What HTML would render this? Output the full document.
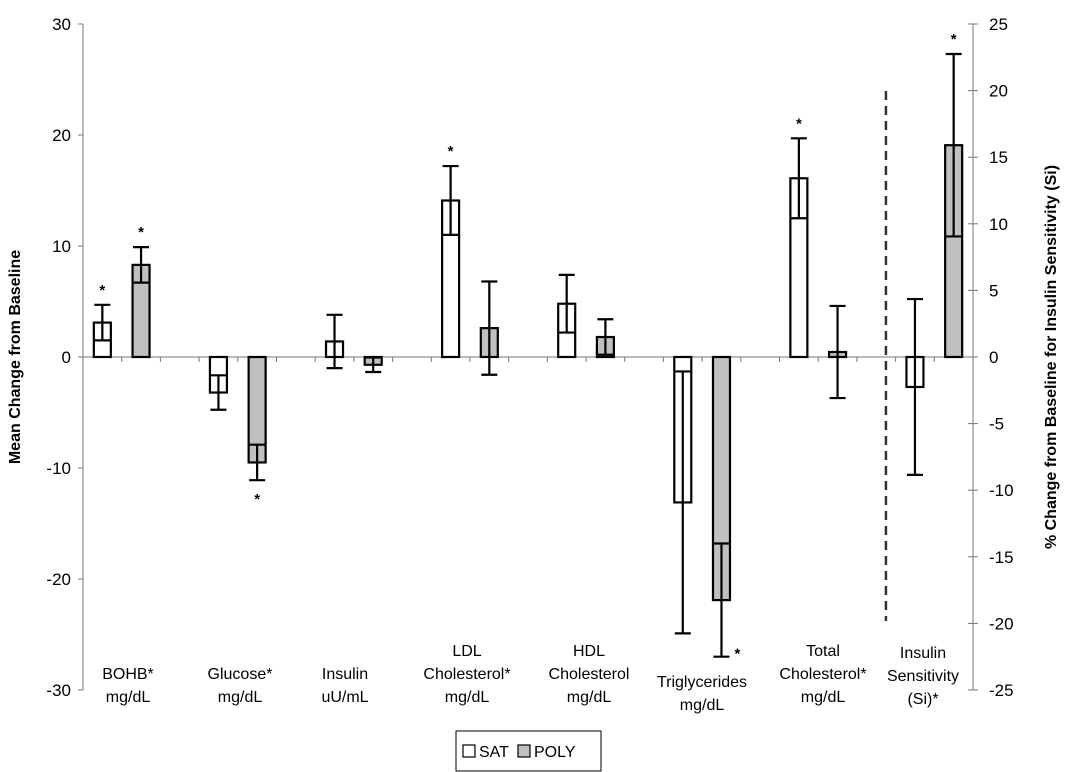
<!DOCTYPE html>
<html><head><meta charset="utf-8">
<style>
html,body{margin:0;padding:0;background:#fff;}
svg{display:block;font-family:"Liberation Sans",Arial,sans-serif;}
</style></head>
<body>
<svg id="chart" width="1072" height="772" viewBox="0 0 1072 772">
  <text x="20" y="357" transform="rotate(-90 20 357)" text-anchor="middle" font-size="16" font-weight="bold">Mean Change from Baseline</text>
  <text x="1056" y="357" transform="rotate(-90 1056 357)" text-anchor="middle" font-size="16" font-weight="bold">% Change from Baseline for Insulin Sensitivity (Si)</text>
  <g>
    <rect x="456" y="731" width="145" height="40" fill="#fff" stroke="#000" stroke-width="1"></rect>
    <rect x="463" y="745" width="12" height="12" fill="#fff" stroke="#000" stroke-width="1.2"></rect>
    <text x="479" y="757" font-size="16">SAT</text>
    <rect x="518" y="745" width="12" height="12" fill="#c0c0c0" stroke="#000" stroke-width="1.2"></rect>
    <text x="534" y="757" font-size="16">POLY</text>
  </g>
</svg>
<script>
const categories = ["BOHB","Glucose","Insulin","LDL Cholesterol","HDL Cholesterol","Triglycerides","Total Cholesterol","Insulin Sensitivity"];
const satValues = [3.1, -3.2, 1.4, 14.1, 4.8, -13.1, 16.1, -2.25];
const satErrors = [1.6, 1.55, 2.4, 3.1, 2.6, 11.8, 3.6, 6.6];
const polyValues = [8.3, -9.5, -0.7, 2.6, 1.8, -21.9, 0.45, 15.9];
const polyErrors = [1.6, 1.6, 0.65, 4.2, 1.6, 5.1, 4.15, 6.85];
const leftTicks = [30, 20, 10, 0, -10, -20, -30];
const rightTicks = [25, 20, 15, 10, 5, 0, -5, -10, -15, -20, -25];
const satStars = [true, false, false, true, false, false, true, false];
const polyStars = [true, true, false, false, false, true, false, true];
const labelLines = [["BOHB*","mg/dL"],["Glucose*","mg/dL"],["Insulin","uU/mL"],["LDL","Cholesterol*","mg/dL"],["HDL","Cholesterol","mg/dL"],["Triglycerides","mg/dL"],["Total","Cholesterol*","mg/dL"],["Insulin","Sensitivity","(Si)*"]];

const svg = document.getElementById('chart');
const NS = 'http://www.w3.org/2000/svg';
const X0 = 83, X1 = 973, Y0 = 357;
const slotW = (X1 - X0) / 23;
function yL(v){ return Y0 - v * 11.1; }
function yR(v){ return Y0 - v * 13.32; }
function slotCenter(s){ return X0 + slotW * (s + 0.5); }
function mk(tag, attrs){ const e = document.createElementNS(NS, tag); for (const k in attrs) e.setAttribute(k, attrs[k]); svg.appendChild(e); return e; }

// axes
let a = mk('line',{x1:X0,y1:yL(30),x2:X0,y2:yL(-30),stroke:'#777','stroke-width':1});


a = mk('line',{x1:X1,y1:yR(25),x2:X1,y2:yR(-25),stroke:'#777','stroke-width':1});


a = mk('line',{x1:X0,y1:Y0,x2:X1,y2:Y0,stroke:'#777','stroke-width':1});


for (let i = 1; i < 23; i++) {
  const t = mk('line',{x1:X0+slotW*i,y1:Y0,x2:X0+slotW*i,y2:Y0+5,stroke:'#777','stroke-width':1});
  
  
}
leftTicks.forEach(v => {
  const t = mk('line',{x1:X0-5,y1:yL(v),x2:X0,y2:yL(v),stroke:'#777','stroke-width':1});
  
  
  const l = mk('text',{x:X0-12,y:yL(v)+6,'text-anchor':'end','font-size':17});
  l.textContent = v;
  
  
});
rightTicks.forEach(v => {
  const t = mk('line',{x1:X1-5,y1:yR(v),x2:X1+5,y2:yR(v),stroke:'#777','stroke-width':1});
  
  
  const l = mk('text',{x:X1+16,y:yR(v)+6,'text-anchor':'start','font-size':17});
  l.textContent = v;
  
  
});
// dashed separator
const dsh = mk('line',{x1:X0+slotW*20.75,y1:91,x2:X0+slotW*20.75,y2:621,stroke:'#333','stroke-width':2.5,'stroke-dasharray':'9,6'});



const bw = 17, cap = 8;
function drawBar(val, err, slot, fill, name, star, scale){
  const cx = slotCenter(slot);
  const yv = scale(val), y0 = scale(0);
  const r = mk('rect',{x:cx-bw/2,y:Math.min(yv,y0),width:bw,height:Math.max(1,Math.abs(yv-y0)),fill:fill,stroke:'#000','stroke-width':2.2});
  
  
  const yt = scale(val+err), yb = scale(val-err);
  const e = mk('path',{d:`M${cx},${yt}V${yb}M${cx-cap},${yt}H${cx+cap}M${cx-cap},${yb}H${cx+cap}`,stroke:'#000','stroke-width':2.2,fill:'none'});
  
  
  if (star) {
    let sx = cx, sy;
    if (val >= 0) sy = yt - 10;
    else if (name.indexOf('triglycerides') >= 0) { sx = cx + 16; sy = yb + 2; }
    else sy = yb + 24;
    const s = mk('text',{x:sx,y:sy,'text-anchor':'middle','font-size':15,'font-weight':'bold'});
    s.textContent = '*';
    
    
  }
}
categories.forEach((c, g) => {
  const slug = c.toLowerCase().replace(/\s+/g,'-');
  const sc = g === 7 ? yR : yL;
  drawBar(satValues[g], satErrors[g], 3*g, '#fff', 'bar-sat-' + slug, satStars[g], sc);
  drawBar(polyValues[g], polyErrors[g], 3*g+1, '#c0c0c0', 'bar-poly-' + slug, polyStars[g], sc);
});
// category labels
const labelX = [128, 240, 345, 467, 589, 702, 823, 923];
const labelTop = [673, 673, 673, 650, 650, 681, 650, 652];
labelLines.forEach((lines, g) => {
  const t = mk('text',{x:labelX[g],'text-anchor':'middle','font-size':16});
  
  
  lines.forEach((ln, i) => {
    const sp = document.createElementNS(NS,'tspan');
    sp.setAttribute('x', labelX[g]);
    sp.setAttribute('y', labelTop[g] + 6 + i*23);
    sp.textContent = ln;
    t.appendChild(sp);
  });
});
</script>
</body></html>
